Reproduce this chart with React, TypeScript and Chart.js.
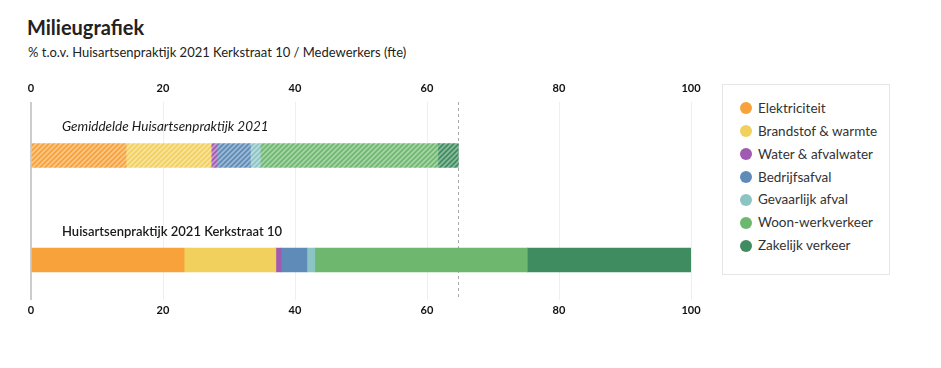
import { useEffect, useRef } from "react";
import { Chart, registerables } from "chart.js";

Chart.register(...registerables);

const titleText = "Milieugrafiek";
const subtitleText = "% t.o.v. Huisartsenpraktijk 2021 Kerkstraat 10 / Medewerkers (fte)";
const categories = ["Gemiddelde Huisartsenpraktijk 2021", "Huisartsenpraktijk 2021 Kerkstraat 10"];
const seriesNames = [
  "Elektriciteit",
  "Brandstof & warmte",
  "Water & afvalwater",
  "Bedrijfsafval",
  "Gevaarlijk afval",
  "Woon-werkverkeer",
  "Zakelijk verkeer",
];
const seriesColors = ["#F7A23A", "#F2D05E", "#A05BB0", "#5E8BB7", "#8CC4C4", "#6DB86E", "#3E8C5F"];
const averageValues = [14.4, 12.9, 0.85, 5.1, 1.5, 26.9, 3.1];
const practiceValues = [23.2, 13.9, 0.8, 3.9, 1.2, 32.2, 24.8];
const tickValues = [0, 20, 40, 60, 80, 100];

const FONT = "Lato, 'Noto Sans', sans-serif";

function lighten(hex: string, amt: number) {
  const n = parseInt(hex.slice(1), 16);
  const r = (n >> 16) & 255, g = (n >> 8) & 255, b = n & 255;
  const m = (c: number) => Math.round(c + (255 - c) * amt);
  return `rgb(${m(r)},${m(g)},${m(b)})`;
}

function makePattern(color: string) {
  const s = 5;
  const c = document.createElement("canvas");
  c.width = s;
  c.height = s;
  const g = c.getContext("2d")!;
  g.fillStyle = color;
  g.fillRect(0, 0, s, s);
  g.strokeStyle = lighten(color, 0.4);
  g.lineWidth = 1.8;
  g.beginPath();
  g.moveTo(-1, 1); g.lineTo(1, -1);
  g.moveTo(-1, s + 1); g.lineTo(s + 1, -1);
  g.moveTo(s - 1, s + 1); g.lineTo(s + 1, s - 1);
  g.stroke();
  return g.createPattern(c, "repeat")!;
}

// Leave room above each bar for its caption: the category band starts just
// below the plot top and runs a little past the plot bottom.
const bandPlugin = {
  id: "bandLayout",
  afterLayout(chart: any) {
    const y = chart.scales.y;
    const area = chart.chartArea;
    y.top = area.top + 1.25;
    y.bottom = area.bottom + 12.25;
    y.configure();
  },
};

const averageLinePlugin = {
  id: "averageLine",
  beforeDatasetsDraw(chart: any) {
    const { ctx, chartArea } = chart;
    const xs = chart.scales.x;
    const total = averageValues.reduce((a, b) => a + b, 0);
    const xt = Math.round(xs.getPixelForValue(total)) + 0.5;
    ctx.save();
    ctx.setLineDash([3, 3]);
    ctx.strokeStyle = "#aaaaaa";
    ctx.lineWidth = 1;
    ctx.beginPath();
    ctx.moveTo(xt, chartArea.top);
    ctx.lineTo(xt, chartArea.bottom);
    ctx.stroke();
    ctx.restore();
  },
};

const labelPlugin = {
  id: "barLabels",
  afterDatasetsDraw(chart: any) {
    const { ctx, chartArea } = chart;
    const meta = chart.getDatasetMeta(0);
    ctx.save();
    ctx.fillStyle = "#1a1a1a";
    ctx.textBaseline = "middle";
    ctx.textAlign = "left";
    categories.forEach((cat, i) => {
      const el = meta.data[i];
      ctx.font = (i === 0 ? "italic 13.5px " : "600 13px ") + FONT;
      ctx.fillText(cat, chartArea.left + 31, el.y - 28.5);
    });
    ctx.restore();
  },
};

export default function App() {
  const ref = useRef<HTMLCanvasElement>(null);

  useEffect(() => {
    const canvas = ref.current!;
    const patterns = seriesColors.map((c) => makePattern(c));
    const tickFont = { family: FONT, size: 11, weight: "bold" as const };
    const chart = new Chart(canvas, {
      type: "bar",
      data: {
        labels: categories,
        datasets: seriesNames.map((name, i) => ({
          label: name,
          data: [averageValues[i], practiceValues[i]],
          backgroundColor: [patterns[i], seriesColors[i]] as any,
          borderWidth: 0,
          barThickness: 24,
        })),
      },
      options: {
        indexAxis: "y",
        responsive: false,
        animation: false,
        layout: { padding: { top: 4, bottom: 10, left: 11, right: 29 } },
        plugins: { legend: { display: false }, tooltip: { enabled: false } },
        scales: {
          x: {
            type: "linear",
            stacked: true,
            min: 0,
            max: 100,
            position: "bottom",
            afterBuildTicks: (s: any) => {
              s.ticks = tickValues.map((v) => ({ value: v }));
            },
            grid: {
              drawTicks: false,
              color: (c: any) => (c.tick && c.tick.value === 0 ? "#cccccc" : "#efefef"),
              lineWidth: (c: any) => (c.tick && c.tick.value === 0 ? 2 : 1),
            },
            border: { display: false },
            ticks: { padding: 3.4, color: "#111", font: tickFont },
          },
          x2: {
            type: "linear",
            axis: "x",
            min: 0,
            max: 100,
            position: "top",
            afterBuildTicks: (s: any) => {
              s.ticks = tickValues.map((v) => ({ value: v }));
            },
            grid: { display: false, drawTicks: false },
            border: { display: false },
            ticks: { padding: 7.4, color: "#111", font: tickFont },
          },
          y: { stacked: true, display: false },
        },
      } as any,
      plugins: [bandPlugin, averageLinePlugin, labelPlugin],
    });
    return () => chart.destroy();
  }, []);

  return (
    <div style={{ position: "relative", width: 925, height: 352, fontFamily: FONT, color: "#222" }}>
      <div style={{ position: "absolute", left: 19, top: 7, fontSize: 20, lineHeight: "24px", fontWeight: "bold", whiteSpace: "nowrap" }}>
        {titleText}
      </div>
      <div style={{ position: "absolute", left: 20, top: 35, fontSize: 13, lineHeight: "18px", whiteSpace: "nowrap" }}>
        {subtitleText}
      </div>
      <canvas ref={ref} width={700} height={260} style={{ position: "absolute", left: 12, top: 62, width: 700, height: 260 }} />
      <div
        style={{
          position: "absolute",
          left: 714,
          top: 76,
          width: 168,
          height: 191,
          boxSizing: "border-box",
          border: "1px solid #e6e6e6",
          background: "#fff",
        }}
      >
        {seriesNames.map((name, i) => (
          <div
            key={name}
            style={{
              position: "absolute",
              left: 0,
              top: 23.3 + i * 22.9 - 11.5,
              height: 23,
              lineHeight: "23px",
              whiteSpace: "nowrap",
              fontSize: 13.5,
              color: "#333",
            }}
          >
            <span
              style={{
                position: "absolute",
                left: 17,
                top: 5.5,
                width: 12,
                height: 12,
                borderRadius: "50%",
                background: seriesColors[i],
              }}
            />
            <span style={{ position: "absolute", left: 35 }}>{name}</span>
          </div>
        ))}
      </div>
    </div>
  );
}
